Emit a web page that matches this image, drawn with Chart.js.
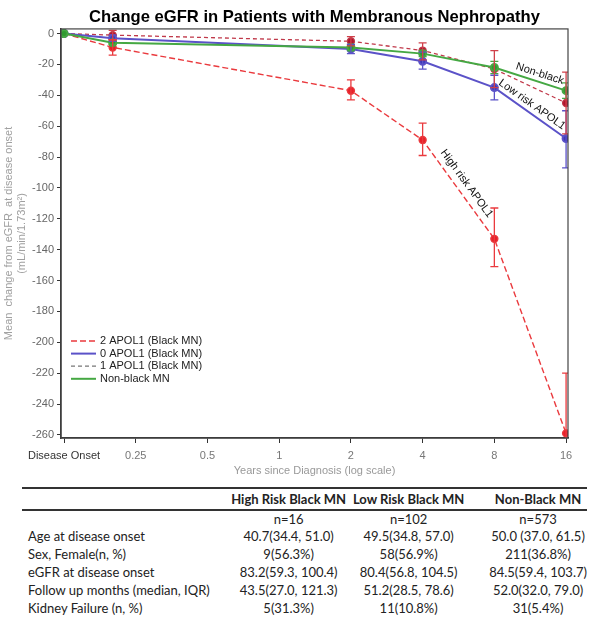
<!DOCTYPE html>
<html>
<head>
<meta charset="utf-8">
<script src="https://cdn.jsdelivr.net/npm/chart.js@4/dist/chart.umd.min.js"></script>
<style>
  body { margin: 0; background: #fff; }
  #wrap { position: relative; width: 598px; height: 620px; }
  #chart { position: absolute; left: 0; top: 0; }
  #summary {
    position: absolute; left: 22px; top: 487px; width: 565px;
    border-collapse: collapse; font-family: Lato, "Open Sans", sans-serif;
    font-size: 13px; color: #222;
  }
  #summary th { font-weight: bold; height: 20px; padding: 0; text-align: center;
    border-top: 2px solid #333; border-bottom: 2px solid #333; }
  #summary td { height: 18px; padding: 0; text-align: center; white-space: nowrap; }
  #summary td.lab { text-align: left; padding-left: 6px; }
  #summary tr.n td { height: 16px; }
  #summary .c3 { padding-left: 20px; }
</style>
</head>
<body>
<div id="wrap">
  <canvas id="chart" width="598" height="478"></canvas>
  <table id="summary"></table>
</div>
<script>
// x positions in years since diagnosis (first one is disease onset)
const xYears = [0.125, 0.2, 2, 4, 8, 16];
const xTickValues = [0.125, 0.25, 0.5, 1, 2, 4, 8, 16];
const xTickLabels = ["Disease Onset", "0.25", "0.5", "1", "2", "4", "8", "16"];
const yTickValues = [0, -20, -40, -60, -80, -100, -120, -140, -160, -180, -200, -220, -240, -260];

// mean change in eGFR + error bar ends, per group
const highRisk = [0, -9, -37, -69, -133, -259];
const highRiskLo = [0, -14, -43, -79, -151, -298];
const highRiskHi = [0, -4, -30, -58, -113, -220];

const lowRisk = [0, -3, -10, -18, -35, -68];
const lowRiskLo = [0, -5, -13, -23, -43, -87];
const lowRiskHi = [0, -1, -7, -12, -27, -50];

const oneApol = [0, -1, -5, -11, -23, -45];
const oneApolLo = [0, -4, -8, -17, -35, -65];
const oneApolHi = [0, 2, -2, -6, -11, -25];

const nonBlack = [0, -6, -9, -13, -22, -37];
const nonBlackLo = [0, -7, -11, -15, -26, -42];
const nonBlackHi = [0, -5, -7, -11, -18, -32];

// table below the chart
const tableColumns = ["High Risk Black MN", "Low Risk Black MN", "Non-Black MN"];
const tableRowLabels = ["", "Age at disease onset", "Sex, Female(n, %)", "eGFR at disease onset",
  "Follow up months (median, IQR)", "Kidney Failure (n, %)"];
const highRiskCol = ["n=16", "40.7(34.4, 51.0)", "9(56.3%)", "83.2(59.3, 100.4)", "43.5(27.0, 121.3)", "5(31.3%)"];
const lowRiskCol = ["n=102", "49.5(34.8, 57.0)", "58(56.9%)", "80.4(56.8, 104.5)", "51.2(28.5, 78.6)", "11(10.8%)"];
const nonBlackCol = ["n=573", "50.0 (37.0, 61.5)", "211(36.8%)", "84.5(59.4, 103.7)", "52.0(32.0, 79.0)", "31(5.4%)"];

function toPoints(vals) {
  return vals.map((v, i) => ({ x: xYears[i], y: v }));
}

// build the table
let html = "<colgroup><col style='width:208px'><col style='width:120px'><col style='width:122px'><col style='width:115px'></colgroup>";
html += "<tr><th></th><th>" + tableColumns[0] + "</th><th>" + tableColumns[1] + "</th><th class='c3'>" + tableColumns[2] + "</th></tr>";
for (let i = 0; i < tableRowLabels.length; i++) {
  html += "<tr" + (i === 0 ? " class='n'" : "") + "><td class='lab'>" + tableRowLabels[i] + "</td><td>" + highRiskCol[i] +
    "</td><td>" + lowRiskCol[i] + "</td><td class='c3'>" + nonBlackCol[i] + "</td></tr>";
}
document.getElementById("summary").innerHTML = html;

// error bars, frame, legend and line labels
const extras = {
  id: "extras",
  afterDatasetsDraw(chart) {
    const c = chart.ctx;
    const xs = chart.scales.x, ys = chart.scales.y;
    const area = chart.chartArea;
    c.save();
    c.beginPath();
    c.rect(area.left, area.top - 2, area.right - area.left, area.bottom - area.top + 2);
    c.clip();
    chart.data.datasets.forEach(ds => {
      c.strokeStyle = ds.barColor;
      c.lineWidth = 1.3;
      ds.lo.forEach((lo, i) => {
        const hi = ds.hi[i];
        if (lo === hi) return;
        const px = xs.getPixelForValue(xYears[i]);
        const y1 = ys.getPixelForValue(lo), y2 = ys.getPixelForValue(hi);
        c.beginPath();
        c.moveTo(px, y1); c.lineTo(px, y2);
        c.moveTo(px - 4, y1); c.lineTo(px + 4, y1);
        c.moveTo(px - 4, y2); c.lineTo(px + 4, y2);
        c.stroke();
      });
    });
    c.restore();

    // frame round the plot
    c.save();
    c.strokeStyle = "#444";
    c.lineWidth = 1.2;
    c.strokeRect(area.left, area.top, area.right - area.left, area.bottom - area.top);
    c.restore();

    // labels along the lines
    c.save();
    c.font = "11px Arial";
    c.fillStyle = "#111";
    c.textAlign = "center";
    c.textBaseline = "middle";
    chart.data.datasets.forEach(ds => {
      if (!ds.lineLabel) return;
      const a = ds.lineLabel.seg;
      const x1 = xs.getPixelForValue(xYears[a]), y1 = ys.getPixelForValue(ds.data[a].y);
      const x2 = xs.getPixelForValue(xYears[a + 1]), y2 = ys.getPixelForValue(ds.data[a + 1].y);
      const ang = Math.atan2(y2 - y1, x2 - x1);
      const t = ds.lineLabel.t;
      const mx = x1 + (x2 - x1) * t, my = y1 + (y2 - y1) * t;
      c.save();
      c.translate(mx, my);
      c.rotate(ang);
      c.fillText(ds.lineLabel.text, 0, -ds.lineLabel.off);
      c.restore();
    });
    c.restore();

    // legend in the lower left of the plot
    c.save();
    c.font = "11px Arial";
    c.textBaseline = "middle";
    const lx = area.left + 10;
    let ly = 341;
    chart.data.datasets.slice().sort((p, q) => p.legendRank - q.legendRank).forEach(ds => {
      c.strokeStyle = ds.legendColor || ds.borderColor;
      c.lineWidth = ds.borderWidth;
      c.setLineDash(ds.borderDash || []);
      c.beginPath();
      c.moveTo(lx, ly); c.lineTo(lx + 25, ly);
      c.stroke();
      c.setLineDash([]);
      c.fillStyle = "#222";
      c.fillText(ds.label, lx + 29, ly);
      ly += 12.6;
    });
    c.restore();
  }
};

const ctx = document.getElementById("chart");
const dataChart = new Chart(ctx, {
  type: "line",
  data: {
    datasets: [
      {
        label: "Non-black MN",
        data: toPoints(nonBlack),
        lo: nonBlackLo, hi: nonBlackHi,
        borderColor: "#45a843", backgroundColor: "#2f9a2f", barColor: "#45a843",
        borderWidth: 2, legendRank: 3,
        lineLabel: { text: "Non-black", seg: 4, t: 0.6, off: 8 },
      },
      {
        label: "0 APOL1 (Black MN)",
        data: toPoints(lowRisk),
        lo: lowRiskLo, hi: lowRiskHi,
        borderColor: "#5b52c8", backgroundColor: "#3f38b8", barColor: "#5b52c8",
        borderWidth: 2, legendRank: 1,
        lineLabel: { text: "Low risk APOL1", seg: 4, t: 0.46, off: 8 },
      },
      {
        label: "1 APOL1 (Black MN)",
        data: toPoints(oneApol),
        lo: oneApolLo, hi: oneApolHi,
        borderColor: "#c0394a", backgroundColor: "#b0142c", barColor: "#d0404a",
        legendColor: "#777",
        borderWidth: 1.3, borderDash: [4, 3], legendRank: 2,
      },
      {
        label: "2 APOL1 (Black MN)",
        data: toPoints(highRisk),
        lo: highRiskLo, hi: highRiskHi,
        borderColor: "#ea3a3e", backgroundColor: "#e8202a", barColor: "#ea3a3e",
        borderWidth: 1.4, borderDash: [6, 3], legendRank: 0,
        lineLabel: { text: "High risk APOL1", seg: 3, t: 0.5, off: 10 },
      },
    ],
  },
  options: {
    responsive: false,
    animation: false,
    layout: { padding: { left: 0, right: 30, top: 0, bottom: 0 } },
    elements: {
      point: { radius: 3.5, borderWidth: 0 },
      line: { tension: 0 },
    },
    plugins: {
      legend: { display: false },
      tooltip: { enabled: false },
      title: {
        display: true,
        fullSize: false,
        text: "Change eGFR in Patients with Membranous Nephropathy",
        color: "#000",
        font: { family: "Arial", size: 16.6, weight: "bold" },
        padding: { top: 7, bottom: 2 },
      },
    },
    scales: {
      x: {
        type: "logarithmic",
        min: 0.1214,
        max: 16.3,
        afterBuildTicks: (scale) => { scale.ticks = xTickValues.map(v => ({ value: v })); },
        afterFit: (scale) => { scale.height = 40; },
        ticks: {
          autoSkip: false, maxRotation: 0, padding: 6,
          color: (c) => (c.index === 0 ? "#333" : "#777"),
          font: { family: "Arial", size: 11 },
          callback: (v, i) => xTickLabels[i],
        },
        grid: { drawOnChartArea: false, tickLength: 5, color: "#333" },
        border: { color: "#333", width: 1.5 },
        title: {
          display: true,
          text: "Years since Diagnosis (log scale)",
          color: "#999",
          font: { family: "Arial", size: 11 },
          padding: { top: 0, bottom: 0 },
        },
      },
      y: {
        min: -262,
        max: 3,
        afterBuildTicks: (scale) => { scale.ticks = yTickValues.map(v => ({ value: v })); },
        afterFit: (scale) => { scale.width = 61; },
        ticks: {
          padding: 3,
          color: "#666",
          font: { family: "Arial", size: 11 },
          callback: (v) => String(v),
        },
        grid: { drawOnChartArea: false, tickLength: 4, color: "#333" },
        border: { color: "#333", width: 1.5 },
        title: {
          display: true,
          text: ["Mean  change from eGFR  at disease onset", "(mL/min/1.73m\u00B2)"],
          color: "#a0a0a0",
          font: { family: "Arial", size: 11 },
          padding: { top: 2, bottom: 0 },
        },
      },
    },
  },
  plugins: [extras],
});
</script>
</body>
</html>
